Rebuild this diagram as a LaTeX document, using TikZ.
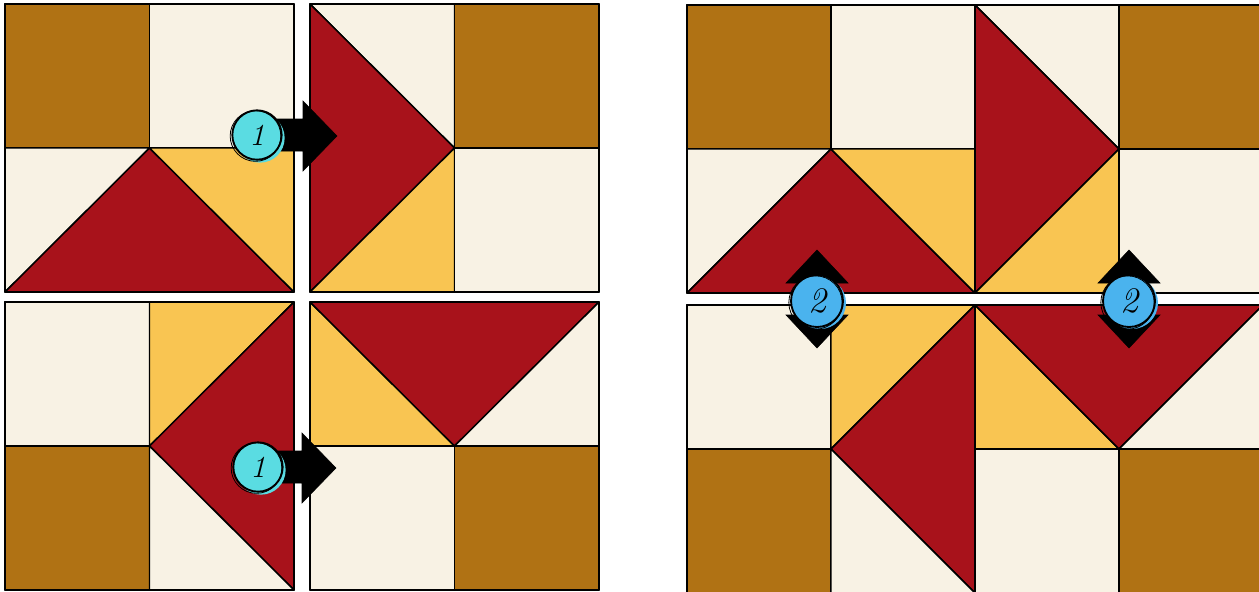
\documentclass[tikz,border=0pt]{standalone}
\definecolor{qbrown}{HTML}{B07214}
\definecolor{qcream}{HTML}{F8F2E4}
\definecolor{qred}{HTML}{A8121B}
\definecolor{qyellow}{HTML}{F9C552}
\definecolor{qteal}{HTML}{5ADCE2}
\definecolor{qblue}{HTML}{4AB3EE}
\tikzset{
  patch/.style={draw=black, line width=1.1pt, line join=round},
  blockA/.pic={
    \filldraw[patch, fill=qbrown] (0,0) rectangle (1,1);
    \filldraw[patch, fill=qcream] (1,0) rectangle (2,1);
    \filldraw[patch, fill=qcream] (0,1) -- (1,1) -- (0,2) -- cycle;
    \filldraw[patch, fill=qred] (1,1) -- (0,2) -- (2,2) -- cycle;
    \filldraw[patch, fill=qyellow] (1,1) -- (2,1) -- (2,2) -- cycle;
    \draw[patch] (0,0) rectangle (2,2);
  },
  blockB/.pic={
    \filldraw[patch, fill=qcream] (0,0) -- (1,0) -- (1,1) -- cycle;
    \filldraw[patch, fill=qred] (0,0) -- (1,1) -- (0,2) -- cycle;
    \filldraw[patch, fill=qyellow] (0,2) -- (1,1) -- (1,2) -- cycle;
    \filldraw[patch, fill=qbrown] (1,0) rectangle (2,1);
    \filldraw[patch, fill=qcream] (1,1) rectangle (2,2);
    \draw[patch] (0,0) rectangle (2,2);
  },
  blockC/.pic={
    \filldraw[patch, fill=qcream] (0,0) rectangle (1,1);
    \filldraw[patch, fill=qbrown] (0,1) rectangle (1,2);
    \filldraw[patch, fill=qyellow] (1,0) -- (2,0) -- (1,1) -- cycle;
    \filldraw[patch, fill=qred] (2,0) -- (1,1) -- (2,2) -- cycle;
    \filldraw[patch, fill=qcream] (1,1) -- (1,2) -- (2,2) -- cycle;
    \draw[patch] (0,0) rectangle (2,2);
  },
  blockD/.pic={
    \filldraw[patch, fill=qyellow] (0,0) -- (1,1) -- (0,1) -- cycle;
    \filldraw[patch, fill=qred] (0,0) -- (2,0) -- (1,1) -- cycle;
    \filldraw[patch, fill=qcream] (2,0) -- (2,1) -- (1,1) -- cycle;
    \filldraw[patch, fill=qcream] (0,1) rectangle (1,2);
    \filldraw[patch, fill=qbrown] (1,1) rectangle (2,2);
    \draw[patch] (0,0) rectangle (2,2);
  },
  badge/.style={circle, draw=black, line width=1.4pt, minimum size=37pt, inner sep=0pt},
  badgeone/.style={badge, fill=qteal, font=\fontsize{23}{23}\selectfont\itshape},
  badgetwo/.style={badge, fill=qblue, font=\fontsize{27}{27}\selectfont\itshape},
  blockarrow/.style={fill=black, draw=black, line join=miter}
}
\begin{document}
\begin{tikzpicture}[x=0.75pt, y=-0.75pt]
\useasboundingbox (0,0) rectangle (1259,592);
\fill[white] (0,0) rectangle (1259,592);
\clip (0,0) rectangle (1259,592);

% left: separated blocks
\begin{scope}[shift={(5,4)}, x=108.375pt, y=-108pt] \pic {blockA}; \end{scope}
\begin{scope}[shift={(310,4)}, x=108.375pt, y=-108pt] \pic {blockB}; \end{scope}
\begin{scope}[shift={(5,302)}, x=108.375pt, y=-108pt] \pic {blockC}; \end{scope}
\begin{scope}[shift={(310,302)}, x=108.375pt, y=-108pt] \pic {blockD}; \end{scope}

% right: rows joined
\begin{scope}[shift={(687,5)}, x=108pt, y=-108pt] \pic {blockA}; \end{scope}
\begin{scope}[shift={(975,5)}, x=108pt, y=-108pt] \pic {blockB}; \end{scope}
\begin{scope}[shift={(687,305)}, x=108pt, y=-108pt] \pic {blockC}; \end{scope}
\begin{scope}[shift={(975,305)}, x=108pt, y=-108pt] \pic {blockD}; \end{scope}

% step 1 arrows
\coordinate (c1) at (257,135);
\coordinate (c2) at (258,467);
\coordinate (t1) at (337,136);
\coordinate (t2) at (336,468);
\foreach \c/\t in {c1/t1, c2/t2}{
  \fill[blockarrow] ([shift={(0,-16)}]\c) -- ([shift={(-34,-16)}]\t |- \c) -- ([shift={(-34,-35)}]\t) -- (\t)
     -- ([shift={(-34,35)}]\t) -- ([shift={(-34,16)}]\t |- \c) -- ([shift={(0,16)}]\c) -- cycle;
}

% step 2 double arrows
\coordinate (d1) at (817,301);
\coordinate (d2) at (1129,301);
\foreach \d in {d1, d2}{
  \fill[blockarrow] ([shift={(0,-51)}]\d) -- ([shift={(31,-18)}]\d) -- ([shift={(15,-18)}]\d) -- ([shift={(15,14)}]\d)
     -- ([shift={(31,14)}]\d) -- ([shift={(0,47)}]\d) -- ([shift={(-31,14)}]\d) -- ([shift={(-15,14)}]\d)
     -- ([shift={(-15,-18)}]\d) -- ([shift={(-31,-18)}]\d) -- cycle;
}

% badges
\fill[qteal] ([shift={(3,3)}]c1) circle (18.5pt);
\node[badgeone] (b1) at (c1) {1};
\draw[line width=0.6pt] ([shift={(-1.5,1)}]c1) circle (19pt);
\fill[qteal] ([shift={(3,3)}]c2) circle (18.5pt);
\node[badgeone] (b2) at (c2) {1};
\draw[line width=0.6pt] ([shift={(-1.5,1)}]c2) circle (19pt);

\fill[qblue] ([shift={(3,2)}]d1) circle (19.5pt);
\node[badgetwo, minimum size=39pt] (b3) at (d1) {2};
\draw[line width=0.6pt] ([shift={(-1.5,1.5)}]d1) circle (20pt);
\fill[qblue] ([shift={(3,2)}]d2) circle (19.5pt);
\node[badgetwo, minimum size=39pt] (b4) at (d2) {2};
\draw[line width=0.6pt] ([shift={(-1.5,1.5)}]d2) circle (20pt);
\end{tikzpicture}
\end{document}
